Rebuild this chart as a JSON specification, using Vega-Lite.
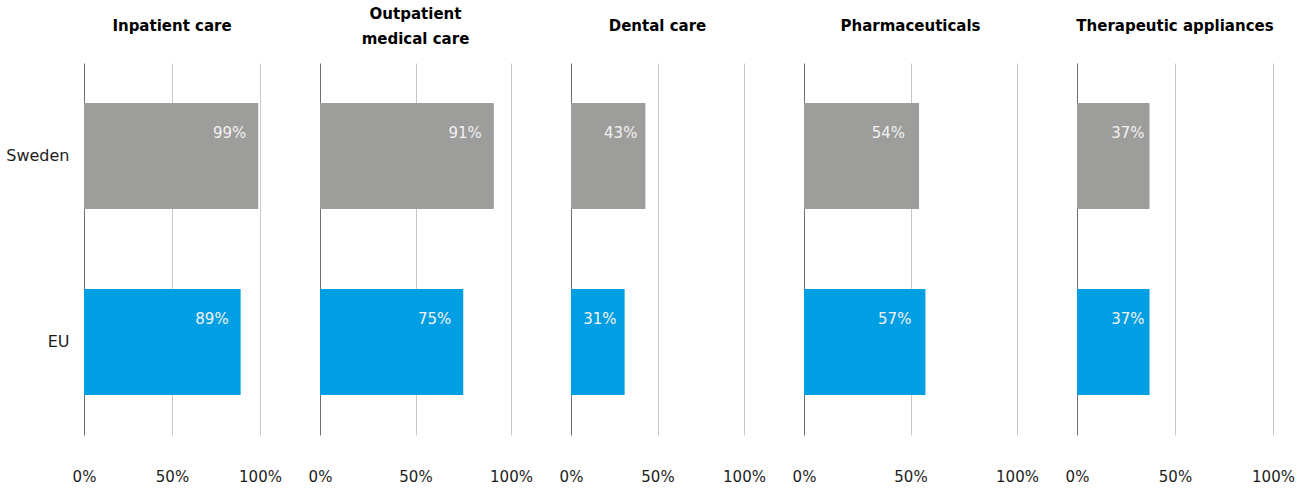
{
  "$schema": "https://vega.github.io/schema/vega-lite/v6.json",
  "background": "white",
  "padding": {"top": 7, "left": 5, "right": 5, "bottom": 5},
  "spacing": 60,
  "bounds": "flush",
  "datasets": {
    "d": [
      {"category": "Inpatient care", "region": "Sweden", "value": 0.99},
      {"category": "Inpatient care", "region": "EU", "value": 0.89},
      {"category": "Outpatient medical care", "region": "Sweden", "value": 0.91},
      {"category": "Outpatient medical care", "region": "EU", "value": 0.75},
      {"category": "Dental care", "region": "Sweden", "value": 0.43},
      {"category": "Dental care", "region": "EU", "value": 0.31},
      {"category": "Pharmaceuticals", "region": "Sweden", "value": 0.54},
      {"category": "Pharmaceuticals", "region": "EU", "value": 0.57},
      {"category": "Therapeutic appliances", "region": "Sweden", "value": 0.37},
      {"category": "Therapeutic appliances", "region": "EU", "value": 0.37}
    ]
  },
  "config": {
    "view": {"stroke": null},
    "font": "DejaVu Sans",
    "title": {"fontSize": 15, "fontWeight": "bold", "color": "#000000", "anchor": "middle", "baseline": "middle", "offset": 29, "lineHeight": 25, "font": "DejaVu Sans"},
    "axis": {"labelFont": "DejaVu Sans", "labelColor": "#1d1d1b", "labelFontSize": 15, "title": null},
    "axisX": {"domain": false, "ticks": false, "labelPadding": 34, "labelFlush": false, "grid": true, "gridWidth": 1},
    "axisY": {"domain": false, "ticks": false, "labelPadding": 15, "grid": false},
    "text": {"font": "DejaVu Sans", "fontSize": 15, "color": "#f2f2f2"}
  },
  "hconcat": [
    {
      "width": 176, "height": 372,
      "title": "Inpatient care",
      "data": {"name": "d"},
      "transform": [{"filter": "datum.category === 'Inpatient care'"}],
      "encoding": {
        "y": {"field": "region", "type": "nominal", "sort": ["Sweden", "EU"], "scale": {"paddingInner": 0.43, "paddingOuter": 0.215}, "axis": {"labelFontSize": 16}},
        "x": {"field": "value", "type": "quantitative", "scale": {"domain": [0, 1]}, "axis": {"values": [0, 0.5, 1], "format": ".0%", "gridColor": {"condition": {"test": "datum.value === 0", "value": "#6f6f6e"}, "value": "#c8c8c8"}}}
      },
      "layer": [
        {"mark": {"type": "bar"}, "encoding": {"color": {"field": "region", "type": "nominal", "scale": {"domain": ["Sweden", "EU"], "range": ["#9d9d9c", "#009fe3"]}, "legend": null}}},
        {"mark": {"type": "text", "align": "right", "baseline": "middle", "dx": -12, "dy": -23}, "encoding": {"text": {"field": "value", "type": "quantitative", "format": ".0%"}}}
      ]
    },
    {
      "width": 191, "height": 372,
      "title": {"text": ["Outpatient", "medical care"], "dy": 13},
      "data": {"name": "d"},
      "transform": [{"filter": "datum.category === 'Outpatient medical care'"}],
      "encoding": {
        "y": {"field": "region", "type": "nominal", "sort": ["Sweden", "EU"], "scale": {"paddingInner": 0.43, "paddingOuter": 0.215}, "axis": null},
        "x": {"field": "value", "type": "quantitative", "scale": {"domain": [0, 1]}, "axis": {"values": [0, 0.5, 1], "format": ".0%", "gridColor": {"condition": {"test": "datum.value === 0", "value": "#6f6f6e"}, "value": "#c8c8c8"}}}
      },
      "layer": [
        {"mark": {"type": "bar"}, "encoding": {"color": {"field": "region", "type": "nominal", "scale": {"domain": ["Sweden", "EU"], "range": ["#9d9d9c", "#009fe3"]}, "legend": null}}},
        {"mark": {"type": "text", "align": "right", "baseline": "middle", "dx": -12, "dy": -23}, "encoding": {"text": {"field": "value", "type": "quantitative", "format": ".0%"}}}
      ]
    },
    {
      "width": 173, "height": 372,
      "title": "Dental care",
      "data": {"name": "d"},
      "transform": [{"filter": "datum.category === 'Dental care'"}],
      "encoding": {
        "y": {"field": "region", "type": "nominal", "sort": ["Sweden", "EU"], "scale": {"paddingInner": 0.43, "paddingOuter": 0.215}, "axis": null},
        "x": {"field": "value", "type": "quantitative", "scale": {"domain": [0, 1]}, "axis": {"values": [0, 0.5, 1], "format": ".0%", "gridColor": {"condition": {"test": "datum.value === 0", "value": "#6f6f6e"}, "value": "#c8c8c8"}}}
      },
      "layer": [
        {"mark": {"type": "bar"}, "encoding": {"color": {"field": "region", "type": "nominal", "scale": {"domain": ["Sweden", "EU"], "range": ["#9d9d9c", "#009fe3"]}, "legend": null}}},
        {"mark": {"type": "text", "align": "right", "baseline": "middle", "dx": -8, "dy": -23}, "encoding": {"text": {"field": "value", "type": "quantitative", "format": ".0%"}}}
      ]
    },
    {
      "width": 213, "height": 372,
      "title": "Pharmaceuticals",
      "data": {"name": "d"},
      "transform": [{"filter": "datum.category === 'Pharmaceuticals'"}],
      "encoding": {
        "y": {"field": "region", "type": "nominal", "sort": ["Sweden", "EU"], "scale": {"paddingInner": 0.43, "paddingOuter": 0.215}, "axis": null},
        "x": {"field": "value", "type": "quantitative", "scale": {"domain": [0, 1]}, "axis": {"values": [0, 0.5, 1], "format": ".0%", "gridColor": {"condition": {"test": "datum.value === 0", "value": "#6f6f6e"}, "value": "#c8c8c8"}}}
      },
      "layer": [
        {"mark": {"type": "bar"}, "encoding": {"color": {"field": "region", "type": "nominal", "scale": {"domain": ["Sweden", "EU"], "range": ["#9d9d9c", "#009fe3"]}, "legend": null}}},
        {"mark": {"type": "text", "align": "right", "baseline": "middle", "dx": -14, "dy": -23}, "encoding": {"text": {"field": "value", "type": "quantitative", "format": ".0%"}}}
      ]
    },
    {
      "width": 196, "height": 372,
      "title": "Therapeutic appliances",
      "data": {"name": "d"},
      "transform": [{"filter": "datum.category === 'Therapeutic appliances'"}],
      "encoding": {
        "y": {"field": "region", "type": "nominal", "sort": ["Sweden", "EU"], "scale": {"paddingInner": 0.43, "paddingOuter": 0.215}, "axis": null},
        "x": {"field": "value", "type": "quantitative", "scale": {"domain": [0, 1]}, "axis": {"values": [0, 0.5, 1], "format": ".0%", "gridColor": {"condition": {"test": "datum.value === 0", "value": "#6f6f6e"}, "value": "#c8c8c8"}}}
      },
      "layer": [
        {"mark": {"type": "bar"}, "encoding": {"color": {"field": "region", "type": "nominal", "scale": {"domain": ["Sweden", "EU"], "range": ["#9d9d9c", "#009fe3"]}, "legend": null}}},
        {"mark": {"type": "text", "align": "right", "baseline": "middle", "dx": -5, "dy": -23}, "encoding": {"text": {"field": "value", "type": "quantitative", "format": ".0%"}}}
      ]
    }
  ]
}
